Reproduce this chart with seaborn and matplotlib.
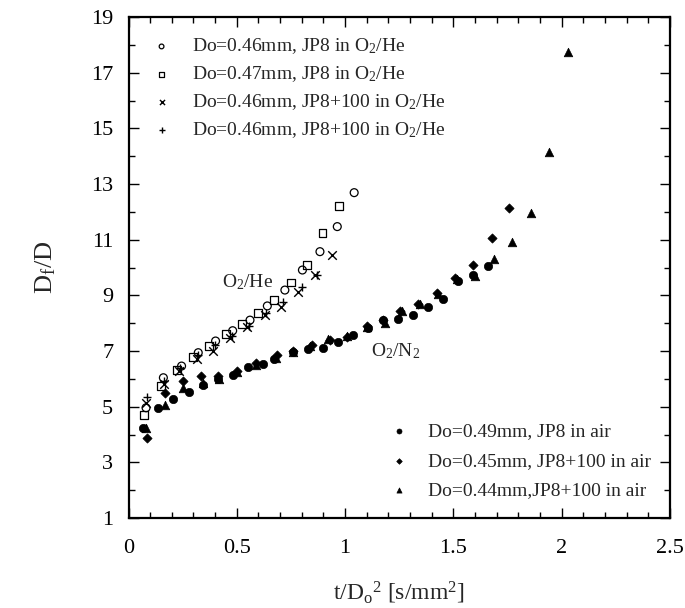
import matplotlib
matplotlib.use("Agg")
import matplotlib.pyplot as plt
from matplotlib.ticker import MultipleLocator
import seaborn as sns

sns.set_theme(style="white")
plt.rcParams["font.family"] = ["Liberation Serif", "DejaVu Serif"]
plt.rcParams["mathtext.fontset"] = "custom"
plt.rcParams["mathtext.rm"] = "Liberation Serif"
plt.rcParams["mathtext.it"] = "Liberation Serif:italic"

# O2/He runs
he_o_x = [0.081, 0.161, 0.245, 0.322, 0.402, 0.481, 0.561, 0.641, 0.722, 0.803, 0.884, 0.964, 1.042]
he_o_y = [4.96, 6.04, 6.46, 6.94, 7.36, 7.73, 8.11, 8.62, 9.19, 9.91, 10.57, 11.47, 12.69]

he_s_x = [0.072, 0.149, 0.222, 0.299, 0.373, 0.450, 0.523, 0.599, 0.673, 0.749, 0.826, 0.896, 0.973]
he_s_y = [4.70, 5.74, 6.32, 6.77, 7.19, 7.61, 7.97, 8.36, 8.83, 9.46, 10.09, 11.25, 12.22]

he_x_x = [0.081, 0.165, 0.235, 0.315, 0.392, 0.469, 0.545, 0.630, 0.703, 0.784, 0.861, 0.938]
he_x_y = [5.14, 5.80, 6.30, 6.71, 7.01, 7.46, 7.85, 8.29, 8.57, 9.13, 9.73, 10.45]

he_p_x = [0.084, 0.165, 0.240, 0.320, 0.400, 0.480, 0.555, 0.635, 0.712, 0.800, 0.872]
he_p_y = [5.36, 5.92, 6.38, 6.85, 7.20, 7.55, 7.90, 8.35, 8.77, 9.29, 9.73]

# air runs
air_c_x = [0.068, 0.138, 0.207, 0.279, 0.345, 0.415, 0.484, 0.553, 0.622, 0.672, 0.758, 0.830,
           0.899, 0.969, 1.035, 1.107, 1.176, 1.246, 1.315, 1.384, 1.453, 1.523, 1.592, 1.661]
air_c_y = [4.24, 4.96, 5.27, 5.54, 5.78, 5.98, 6.14, 6.41, 6.53, 6.71, 6.95, 7.07,
           7.12, 7.33, 7.58, 7.82, 8.11, 8.14, 8.29, 8.57, 8.86, 9.52, 9.73, 10.05]

air_d_x = [0.084, 0.168, 0.250, 0.333, 0.415, 0.500, 0.589, 0.684, 0.760, 0.845, 0.930, 1.007,
           1.100, 1.176, 1.253, 1.338, 1.426, 1.507, 1.592, 1.677, 1.758]
air_d_y = [3.86, 5.48, 5.92, 6.11, 6.10, 6.30, 6.56, 6.86, 7.00, 7.20, 7.40, 7.51,
           7.90, 8.10, 8.45, 8.69, 9.10, 9.63, 10.09, 11.07, 12.13]

air_t_x = [0.081, 0.168, 0.250, 0.345, 0.420, 0.502, 0.590, 0.680, 0.760, 0.838, 0.922, 1.010,
           1.100, 1.184, 1.261, 1.346, 1.430, 1.515, 1.600, 1.687, 1.772, 1.857, 1.943, 2.028]
air_t_y = [4.24, 5.06, 5.68, 5.85, 6.00, 6.26, 6.50, 6.75, 6.95, 7.18, 7.43, 7.55,
           7.85, 8.00, 8.44, 8.69, 9.04, 9.58, 9.70, 10.30, 10.91, 11.97, 14.16, 17.76]

he_labels = [r"Do=0.46mm, JP8 in O$_2$/He",
             r"Do=0.47mm, JP8 in O$_2$/He",
             r"Do=0.46mm, JP8+100 in O$_2$/He",
             r"Do=0.46mm, JP8+100 in O$_2$/He"]
air_labels = ["Do=0.49mm, JP8 in air",
              "Do=0.45mm, JP8+100 in air",
              "Do=0.44mm,JP8+100 in air"]

x_ticks = [0, 0.5, 1, 1.5, 2, 2.5]
x_tick_labels = ["0", "0.5", "1", "1.5", "2", "2.5"]
y_ticks = [1, 3, 5, 7, 9, 11, 13, 15, 17, 19]

fig = plt.figure(figsize=(6.85, 6.08), dpi=100)
ax = fig.add_axes([0.1876, 0.148, 0.7904, 0.824])

he_series = [(he_o_x, he_o_y, "o", True), (he_s_x, he_s_y, "s", True),
             (he_x_x, he_x_y, "x", False), (he_p_x, he_p_y, "+", False)]
for (xs, ys, m, hollow), lab in zip(he_series, he_labels):
    if hollow:
        sns.scatterplot(x=xs, y=ys, marker=m, s=32, facecolor="none", edgecolor="black",
                        linewidth=0.9, ax=ax, label=lab)
    else:
        sns.scatterplot(x=xs, y=ys, marker=m, s=38, color="black", linewidth=1.0,
                        ax=ax, label=lab)

air_series = [(air_c_x, air_c_y, "o", 36), (air_d_x, air_d_y, "D", 22), (air_t_x, air_t_y, "^", 38)]
for (xs, ys, m, sz), lab in zip(air_series, air_labels):
    sns.scatterplot(x=xs, y=ys, marker=m, s=sz, color="black", edgecolor="black",
                    linewidth=0.5, ax=ax, label=lab)

handles, labels = ax.get_legend_handles_labels()
leg1 = ax.legend(handles[:4], labels[:4], loc="upper left", bbox_to_anchor=(0.0, 0.988),
                 frameon=False, fontsize=14, markerscale=0.6, handletextpad=0.55,
                 labelspacing=0.42, borderaxespad=0.3)
ax.add_artist(leg1)
ax.legend(handles[4:], labels[4:], loc="lower right", bbox_to_anchor=(0.998, 0.003),
          frameon=False, fontsize=14, markerscale=0.6, handletextpad=0.5,
          labelspacing=0.6)

ax.text(0.548, 9.48, r"O$_2$/He", fontsize=14, ha="center", va="center")
ax.text(1.235, 7.0, r"O$_2$/N$_2$", fontsize=14, ha="center", va="center")

ax.set_xlim(0, 2.5)
ax.set_ylim(1, 19)
ax.set_xticks(x_ticks)
ax.set_xticklabels(x_tick_labels)
ax.xaxis.set_minor_locator(MultipleLocator(0.1))
ax.set_yticks(y_ticks)
ax.yaxis.set_minor_locator(MultipleLocator(1))
ax.tick_params(which="both", direction="in", top=True, right=True, bottom=True, left=True,
               colors="black", labelsize=16)
ax.tick_params(axis="x", which="major", length=7, width=1.0, pad=15)
ax.tick_params(axis="y", which="major", length=7, width=1.0, pad=11)
ax.tick_params(which="minor", length=4, width=1.0)
for sp in ax.spines.values():
    sp.set_linewidth(1.6)
    sp.set_color("black")

ax.set_xlabel(r"t/D$_\mathrm{o}$$^2$ [s/mm$^2$]", fontsize=17, labelpad=16)
ax.set_ylabel(r"D$_\mathrm{f}$/D", fontsize=19, labelpad=24)

fig.savefig("out.png", dpi=100)
